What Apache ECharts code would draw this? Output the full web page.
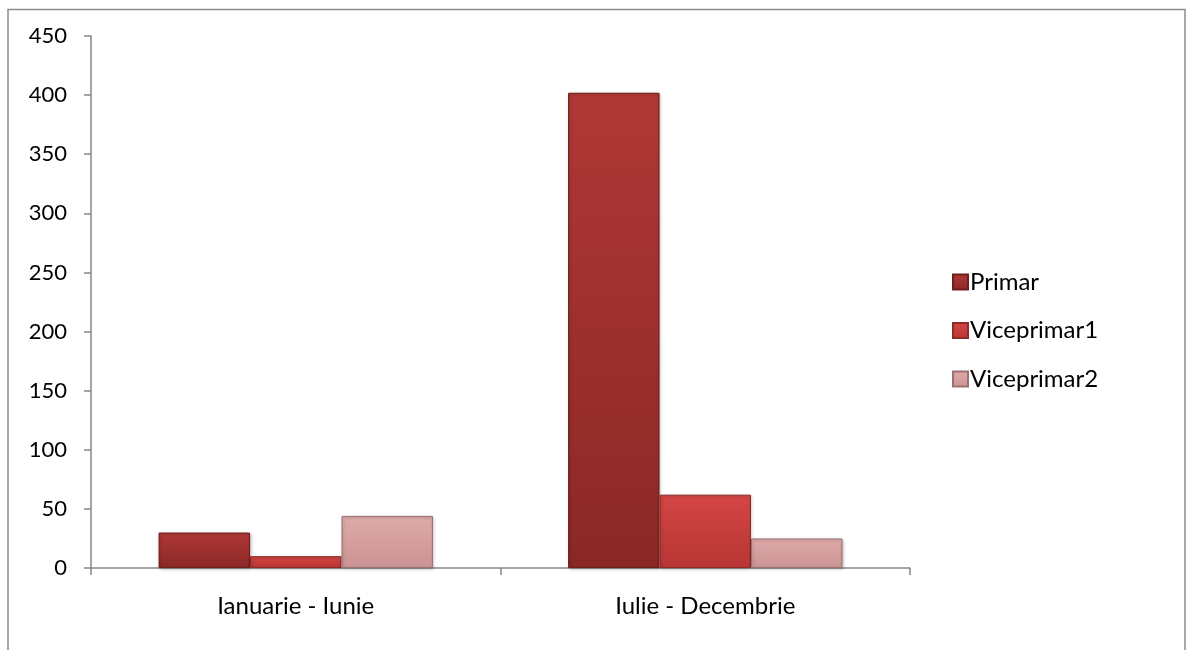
<!DOCTYPE html>
<html>
<head>
<meta charset="utf-8">
<title>Primar / Viceprimar</title>
<script src="https://cdn.jsdelivr.net/npm/echarts@6/dist/echarts.min.js"></script>
<style>
  html, body { margin: 0; padding: 0; background: #fff; }
  #chart { width: 1190px; height: 650px; }
</style>
</head>
<body>
<div id="chart"></div>
<script>
// date
var categories = ["Ianuarie - Iunie", "Iulie - Decembrie"];
var primar = [30, 402];
var viceprimar1 = [10, 62];
var viceprimar2 = [44, 25];
var yTicks = [0, 50, 100, 150, 200, 250, 300, 350, 400, 450];

// gradient pentru efectul de relief al barelor
function grad(top, bottom) {
  return new echarts.graphic.LinearGradient(0, 0, 0, 1, [
    { offset: 0, color: top },
    { offset: 1, color: bottom }
  ]);
}

function barSeries(name, data, top, bottom, edge) {
  return {
    name: name,
    type: "bar",
    data: data,
    barGap: "0%",
    barCategoryGap: "33%",
    itemStyle: {
      color: grad(top, bottom),
      borderColor: edge,
      borderWidth: 1,
      shadowColor: "rgba(0,0,0,0.25)",
      shadowBlur: 3,
      shadowOffsetX: 1,
      shadowOffsetY: 1
    }
  };
}

var myChart = echarts.init(document.getElementById("chart"));

var option = {
  animation: false,
  textStyle: { fontFamily: "Lato", color: "#000" },
  graphic: [
    {
      type: "rect",
      shape: { x: 8, y: 9.5, width: 1177, height: 660 },
      style: { fill: "none", stroke: "#8c8c8c", lineWidth: 1.5 },
      silent: true
    }
  ],
  legend: {
    orient: "vertical",
    left: 947,
    top: 264,
    itemWidth: 15,
    itemHeight: 15,
    itemGap: 22.5,
    icon: "rect",
    textStyle: { fontSize: 24, lineHeight: 26, color: "#000", fontFamily: "Lato", padding: [0, 0, 0, -3] },
    data: ["Primar", "Viceprimar1", "Viceprimar2"]
  },
  grid: { left: 91, right: 280, top: 36, bottom: 82 },
  xAxis: {
    type: "category",
    data: categories,
    axisLine: { lineStyle: { color: "#868686", width: 1.5 } },
    axisTick: { show: true, length: 7, lineStyle: { color: "#868686", width: 1.5 } },
    axisLabel: { fontSize: 24, color: "#000", margin: 26, fontFamily: "Lato" }
  },
  yAxis: {
    type: "value",
    min: 0,
    max: 450,
    interval: 50,
    axisLine: { show: true, lineStyle: { color: "#868686", width: 1.5 } },
    axisTick: { show: true, length: 7, lineStyle: { color: "#868686", width: 1.5 } },
    splitLine: { show: false },
    axisLabel: {
      fontSize: 22,
      color: "#000",
      margin: 24,
      fontFamily: "Lato",
      formatter: function (v) { return yTicks.indexOf(v) >= 0 ? String(v) : ""; }
    }
  },
  series: [
    barSeries("Primar", primar, "#b03836", "#8a2826", "#6e1e1c"),
    barSeries("Viceprimar1", viceprimar1, "#d44644", "#b83634", "#8e2a28"),
    barSeries("Viceprimar2", viceprimar2, "#dfaaaa", "#cc9494", "#9a7070")
  ]
};

myChart.setOption(option);
</script>
</body>
</html>
